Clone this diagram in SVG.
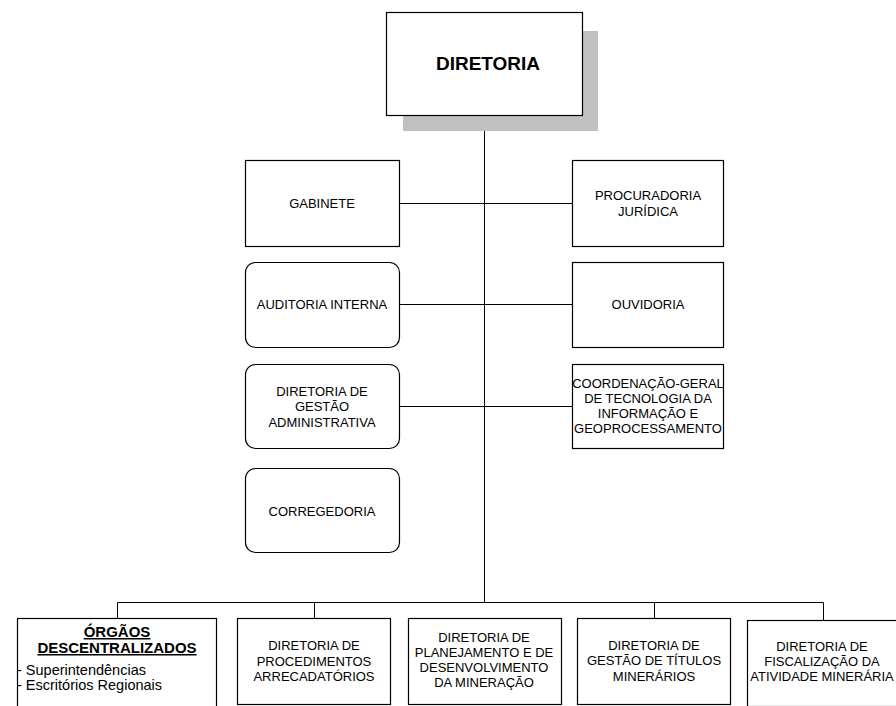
<svg xmlns="http://www.w3.org/2000/svg" width="896" height="706" viewBox="0 0 896 706">
<style>
.box{fill:#fff;stroke:#000;stroke-width:1.2}
.ln{stroke:#000;stroke-width:1;fill:none}
text{font-family:"Liberation Sans",Arial,sans-serif;font-size:13px;fill:#000}
.c{text-anchor:middle}
.b{font-weight:bold}
</style>
<rect width="896" height="706" fill="#fff"/>
<g id="connectors">
<path class="ln" d="M484.5 131V602.5M399 203.5H572M399 304.5H572M399 406.5H572M117.5 618V602.5H823.5V620M314.5 602.5V618M654.5 602.5V618"/>
</g>
<g id="diretoria">
<rect x="403" y="31" width="195" height="100" fill="#c0c0c0"/>
<rect class="box" x="386.5" y="12.5" width="196" height="103"/>
<text class="c b" x="488" y="70" style="font-size:19px">DIRETORIA</text>
</g>
<g id="gabinete">
<rect class="box" x="245.5" y="160.5" width="154" height="86"/>
<text class="c" x="322" y="208">GABINETE</text>
</g>
<g id="procuradoria">
<rect class="box" x="572.5" y="160.5" width="151" height="86"/>
<text class="c" x="648" y="200">PROCURADORIA</text>
<text class="c" x="648" y="216">JURÍDICA</text>
</g>
<g id="auditoria">
<rect class="box" x="245.5" y="262.5" width="154" height="85" rx="10"/>
<text class="c" x="322" y="309">AUDITORIA INTERNA</text>
</g>
<g id="ouvidoria">
<rect class="box" x="572.5" y="262.5" width="151" height="85"/>
<text class="c" x="648" y="309">OUVIDORIA</text>
</g>
<g id="gestao-adm">
<rect class="box" x="245.5" y="364.5" width="154" height="84" rx="10"/>
<text class="c" x="322" y="396">DIRETORIA DE</text>
<text class="c" x="322" y="411">GESTÃO</text>
<text class="c" x="322" y="427">ADMINISTRATIVA</text>
</g>
<g id="coordenacao">
<rect class="box" x="572.5" y="364.5" width="151" height="84"/>
<text class="c" x="648" y="388">COORDENAÇÃO-GERAL</text>
<text class="c" x="648" y="403">DE TECNOLOGIA DA</text>
<text class="c" x="648" y="418">INFORMAÇÃO E</text>
<text class="c" x="648" y="433">GEOPROCESSAMENTO</text>
</g>
<g id="corregedoria">
<rect class="box" x="245.5" y="468.5" width="154" height="84" rx="10"/>
<text class="c" x="322" y="516">CORREGEDORIA</text>
</g>
<g id="orgaos">
<rect class="box" x="17.5" y="618.5" width="199" height="95"/>
<text class="c b" x="117" y="637" style="font-size:15px;text-decoration:underline">ÓRGÃOS</text>
<text class="c b" x="117" y="653" style="font-size:15px;text-decoration:underline">DESCENTRALIZADOS</text>
<text x="17" y="675" style="font-size:14.5px">- Superintendências</text>
<text x="17" y="690" style="font-size:14.5px">- Escritórios Regionais</text>
</g>
<g id="arrecadatorios">
<rect class="box" x="237.5" y="618.5" width="153" height="86"/>
<text class="c" x="314" y="650">DIRETORIA DE</text>
<text class="c" x="314" y="666">PROCEDIMENTOS</text>
<text class="c" x="314" y="681">ARRECADATÓRIOS</text>
</g>
<g id="planejamento">
<rect class="box" x="408.5" y="618.5" width="153" height="86"/>
<text class="c" x="484" y="642">DIRETORIA DE</text>
<text class="c" x="484" y="657">PLANEJAMENTO E DE</text>
<text class="c" x="484" y="672">DESENVOLVIMENTO</text>
<text class="c" x="484" y="687">DA MINERAÇÃO</text>
</g>
<g id="titulos">
<rect class="box" x="577.5" y="618.5" width="153" height="86"/>
<text class="c" x="654" y="650">DIRETORIA DE</text>
<text class="c" x="654" y="665">GESTÃO DE TÍTULOS</text>
<text class="c" x="654" y="681">MINERÁRIOS</text>
</g>
<g id="fiscalizacao">
<rect class="box" x="747.5" y="620.5" width="160" height="86"/>
<text class="c" x="822" y="651">DIRETORIA DE</text>
<text class="c" x="822" y="666">FISCALIZAÇÃO DA</text>
<text class="c" x="822" y="681">ATIVIDADE MINERÁRIA</text>
</g>
</svg>
